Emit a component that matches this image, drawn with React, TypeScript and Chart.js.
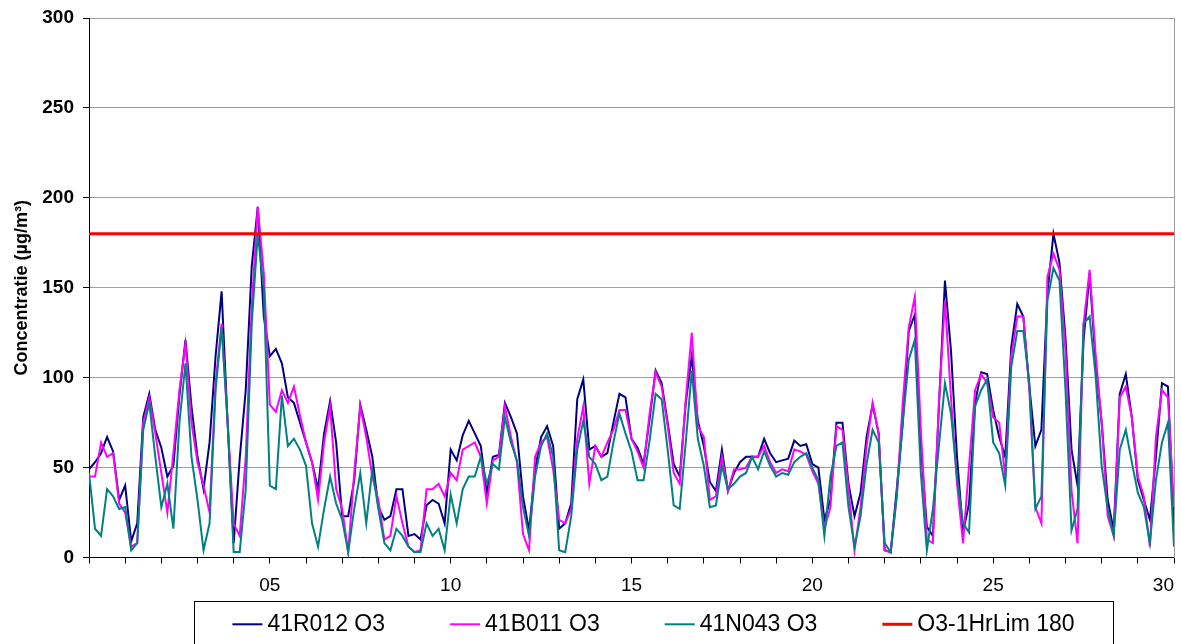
import React, { useEffect, useRef } from 'react';
import { Chart, registerables } from 'chart.js';

Chart.register(...registerables);

// ---------- data ----------
const STEP_HOURS = 4; // one value every 4 hours
const DAYS = 30;
const LIMIT = 180;
const X_LABEL_DAYS = [5, 10, 15, 20, 25, 30];
const Y_MAX = 300;
const Y_STEP = 50;
const SERIES_LABELS = ['41R012 O3', '41B011 O3', '41N043 O3', 'O3-1HrLim 180'];
const Y_TITLE = 'Concentratie (µg/m³)';

const R012 = [
  49, 53, 58, 67, 59, 32, 40, 9, 19, 78,
  91, 71, 61, 45, 51, 90, 121, 84, 56, 38,
  64, 112, 148, 75, 8, 55, 93, 162, 195, 134,
  112, 116, 108, 89, 86, 75, 64, 53, 38, 69,
  87, 64, 23, 23, 43, 85, 71, 56, 28, 21,
  23, 38, 38, 12, 13, 10, 29, 32, 30, 19,
  60, 54, 68, 76, 69, 62, 36, 56, 57, 86,
  78, 69, 34, 15, 49, 67, 73, 62, 16, 19,
  30, 88, 99, 60, 62, 56, 58, 75, 91, 89,
  66, 61, 52, 77, 104, 97, 75, 52, 45, 86,
  112, 76, 62, 42, 37, 60, 37, 47, 53, 56,
  56, 56, 66, 58, 53, 54, 55, 65, 62, 63,
  52, 50, 21, 32, 75, 75, 41, 23, 36, 67,
  85, 69, 4, 3, 38, 75, 126, 135, 62, 17,
  12, 84, 154, 115, 56, 14, 30, 86, 103, 102,
  82, 67, 56, 117, 141, 134, 95, 62, 71, 147,
  180, 164, 122, 60, 40, 121, 158, 108, 75, 32,
  15, 91, 102, 78, 43, 32, 21, 56, 97, 95, 17,
];

const B011 = [
  45, 45, 64, 56, 58, 30, 25, 6, 8, 75,
  89, 69, 47, 25, 58, 93, 119, 75, 53, 40,
  25, 97, 130, 75, 19, 12, 56, 140, 195, 158,
  85, 81, 93, 86, 95, 79, 64, 53, 32, 64,
  84, 38, 27, 3, 47, 84, 67, 45, 32, 10,
  12, 34, 19, 6, 3, 4, 38, 38, 41, 34,
  47, 43, 60, 62, 64, 56, 30, 54, 56, 84,
  67, 53, 13, 4, 56, 64, 67, 49, 21, 19,
  27, 66, 84, 41, 62, 56, 64, 71, 82, 82,
  66, 59, 50, 80, 103, 95, 73, 47, 41, 88,
  125, 73, 67, 32, 34, 56, 37, 49, 49, 50,
  56, 56, 62, 53, 47, 49, 48, 60, 59, 57,
  48, 41, 16, 28, 73, 71, 38, 4, 28, 62,
  86, 69, 4, 3, 34, 86, 128, 145, 71, 10,
  8, 86, 143, 89, 41, 8, 51, 93, 102, 97,
  78, 75, 45, 112, 134, 134, 93, 28, 19, 156,
  169, 160, 115, 37, 8, 130, 160, 113, 75, 23,
  12, 89, 95, 78, 45, 34, 6, 67, 93, 89, 28,
];

const N043 = [
  47, 16, 12, 38, 34, 27, 28, 4, 8, 71,
  86, 56, 28, 41, 16, 75, 108, 56, 32, 4,
  19, 93, 128, 75, 3, 3, 38, 130, 180, 149,
  40, 38, 90, 62, 66, 60, 51, 19, 6, 27,
  45, 30, 21, 3, 27, 47, 19, 49, 27, 8,
  4, 16, 12, 6, 3, 3, 19, 12, 16, 4,
  35, 19, 38, 45, 45, 56, 41, 52, 49, 78,
  64, 54, 28, 12, 45, 62, 69, 56, 4, 3,
  23, 60, 76, 56, 52, 43, 45, 64, 80, 69,
  59, 43, 43, 65, 91, 88, 60, 29, 27, 64,
  104, 66, 51, 28, 29, 51, 38, 41, 45, 47,
  56, 49, 59, 51, 45, 47, 46, 53, 56, 58,
  50, 43, 12, 45, 62, 64, 28, 6, 23, 52,
  71, 64, 8, 3, 34, 75, 110, 121, 47, 4,
  27, 62, 97, 80, 45, 19, 14, 84, 93, 99,
  64, 58, 40, 106, 126, 126, 97, 27, 34, 143,
  161, 154, 93, 15, 27, 130, 134, 101, 51, 27,
  12, 60, 71, 53, 36, 28, 8, 43, 64, 75, 6,
];

// ---------- style ----------
const FONT = '"Liberation Sans", Arial, Helvetica, sans-serif';
const COLORS = ['#000080', '#FF00FF', '#008080', '#FF0000'];
const GRID = '#9e9e9e';
const W = 1181;
const H = 644;
const Y_AXIS_WIDTH = 89;
const X_AXIS_HEIGHT = 44;
const LEGEND_LEFT = 194;
const LEGEND_RIGHT = 1113;
const LEGEND_FONT = 23;
const LEGEND_LINE = 30;
const LEGEND_TEXT_GAP = 5;
const LEGEND_ITEM_GAP = 65;
const LEGEND_ROW_OFFSET = 22.8;

const toPoints = (vals: number[]) =>
  vals.map((y, i) => ({ x: (i * STEP_HOURS) / 24, y }));

const legendBox = {
  id: 'legendBox',
  afterDraw(chart: any) {
    const { ctx } = chart;
    const top = chart.scales.x.bottom;
    ctx.save();
    ctx.strokeStyle = '#000';
    ctx.lineWidth = 1;
    ctx.strokeRect(LEGEND_LEFT + 0.5, Math.floor(top) + 0.5, LEGEND_RIGHT - LEGEND_LEFT, chart.height);
    ctx.font = `${LEGEND_FONT}px ${FONT}`;
    ctx.textBaseline = 'middle';
    ctx.textAlign = 'left';
    const items = chart.data.datasets.map((ds: any) => {
      const label = String(ds.label);
      return { label, color: ds.borderColor, lw: ds.borderWidth, w: ctx.measureText(label).width };
    });
    const total =
      items.reduce((s: number, it: any) => s + LEGEND_LINE + LEGEND_TEXT_GAP + it.w, 0) +
      LEGEND_ITEM_GAP * (items.length - 1);
    let x = (LEGEND_LEFT + LEGEND_RIGHT) / 2 - total / 2;
    const y = top + LEGEND_ROW_OFFSET;
    items.forEach((it: any) => {
      ctx.beginPath();
      ctx.strokeStyle = it.color;
      ctx.lineWidth = it.lw;
      ctx.moveTo(x, y);
      ctx.lineTo(x + LEGEND_LINE, y);
      ctx.stroke();
      ctx.fillStyle = '#000';
      ctx.fillText(it.label, x + LEGEND_LINE + LEGEND_TEXT_GAP, y);
      x += LEGEND_LINE + LEGEND_TEXT_GAP + it.w + LEGEND_ITEM_GAP;
    });
    ctx.restore();
  },
};

export default function App() {
  const ref = useRef<HTMLCanvasElement>(null);

  useEffect(() => {
    const canvas = ref.current;
    if (!canvas) return;
    Chart.defaults.font.family = FONT;
    Chart.defaults.color = '#000';

    const seriesData = [R012, B011, N043];
    const datasets: any[] = seriesData.map((vals, i) => ({
      label: SERIES_LABELS[i],
      data: toPoints(vals),
      borderColor: COLORS[i],
      backgroundColor: COLORS[i],
      borderWidth: 2,
      pointRadius: 0,
      tension: 0,
      fill: false,
      order: 3 - i,
    }));
    datasets.push({
      label: SERIES_LABELS[3],
      data: [
        { x: 0, y: LIMIT },
        { x: DAYS, y: LIMIT },
      ],
      borderColor: COLORS[3],
      backgroundColor: COLORS[3],
      borderWidth: 3,
      pointRadius: 0,
      fill: false,
      order: 0,
    });

    const chart = new Chart(canvas, {
      type: 'line',
      data: { datasets },
      options: {
        animation: false,
        responsive: false,
        devicePixelRatio: 1,
        events: [],
        layout: {
          padding: { top: 18, left: 0, right: 7, bottom: H - 557.5 - X_AXIS_HEIGHT },
        },
        plugins: {
          legend: { display: false },
          tooltip: { enabled: false },
          title: { display: false },
        },
        scales: {
          x: {
            type: 'linear',
            min: 0,
            max: DAYS,
            grid: {
              display: true,
              drawOnChartArea: false,
              drawTicks: true,
              tickLength: 6,
              tickColor: '#000',
            },
            border: { display: true, color: '#000', width: 1 },
            ticks: {
              stepSize: 1,
              maxTicksLimit: 40,
              autoSkip: false,
              maxRotation: 0,
              minRotation: 0,
              align: 'inner',
              padding: 11,
              color: '#000',
              font: { size: 19, family: FONT },
              callback: (v: any) =>
                X_LABEL_DAYS.includes(Number(v)) ? String(v).padStart(2, '0') : '',
            },
            afterFit: (s: any) => {
              s.height = X_AXIS_HEIGHT;
              s.paddingLeft = 0;
              s.paddingRight = 0;
            },
          },
          y: {
            type: 'linear',
            position: 'left',
            min: 0,
            max: Y_MAX,
            grid: {
              color: GRID,
              lineWidth: 1,
              tickColor: '#000',
              tickLength: 6,
              drawTicks: true,
            },
            border: { display: true, color: '#000', width: 1 },
            ticks: {
              stepSize: Y_STEP,
              padding: 9,
              color: '#000',
              font: { size: 19, weight: 'bold', family: FONT },
            },
            title: {
              display: true,
              text: Y_TITLE,
              color: '#000',
              font: { size: 18, weight: 'bold', family: FONT },
              padding: { top: 11, bottom: 0 },
            },
            afterFit: (s: any) => {
              s.width = Y_AXIS_WIDTH;
              s.paddingTop = 0;
              s.paddingBottom = 0;
            },
          },
          y2: {
            type: 'linear',
            position: 'right',
            min: 0,
            max: Y_MAX,
            grid: { display: false, drawOnChartArea: false, drawTicks: false },
            ticks: { display: false },
            border: { display: true, color: GRID, width: 1 },
            afterFit: (s: any) => {
              s.width = 0;
              s.paddingTop = 0;
              s.paddingBottom = 0;
            },
          },
        },
      } as any,
      plugins: [legendBox],
    });

    return () => chart.destroy();
  }, []);

  return (
    <div style={{ position: 'absolute', left: 0, top: 0, width: W, height: H }}>
      <canvas ref={ref} width={W} height={H} style={{ display: 'block' }} />
    </div>
  );
}
